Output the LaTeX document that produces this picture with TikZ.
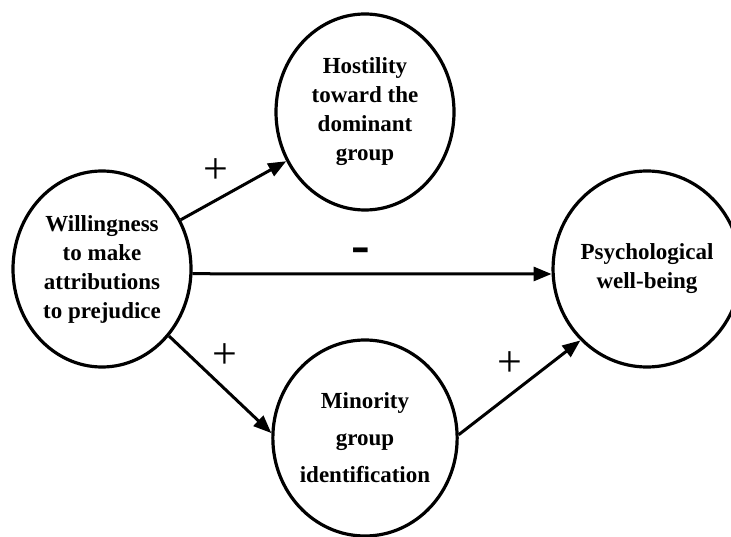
\documentclass[tikz,border=0pt]{standalone}
\usepackage{fontspec}
\setmainfont{Liberation Serif}
\usetikzlibrary{shapes.geometric,arrows.meta}

\begin{document}
\begin{tikzpicture}[x=1pt,y=1pt]

      \useasboundingbox (0,0) rectangle (731,536);

      \begin{scope}[every node/.style={ellipse,draw,line width=3.2pt,inner sep=0pt,
          minimum width=178pt,minimum height=196pt,align=center,
          font=\bfseries\fontsize{23}{29}\selectfont}]
        \node (1) at (102,267) {Willingness\\to make\\attributions\\to prejudice};
        \node (2) at (365,424) {Hostility\\toward the\\dominant\\group};
        \node (3) at (647,267) {Psychological\\well-being};
        \node[font=\bfseries\fontsize{23}{37}\selectfont] (4) at (365,98) {Minority\\group\\identification};
      \end{scope}

      \begin{scope}[every node/.style={inner sep=0pt,font=\fontsize{44}{44}\selectfont}]

        \begin{scope}[every edge/.style={draw,line width=3pt,-{Triangle[length=18pt,width=14pt]}}]
          \path (1.32)  edge node[pos=.33,above=15pt] {+} (2.212);
          \path (1.-3)  edge node[pos=.47,above=9pt,font=\bfseries\fontsize{56}{56}\selectfont] {-} (3.183);
          \path (1.-45) edge node[pos=.55,above=19pt] {+} (4.177);
          \path (4.2)   edge node[pos=.42,above=17pt] {+} (3.227);
        \end{scope}
      \end{scope}

    \end{tikzpicture}
\end{document}
